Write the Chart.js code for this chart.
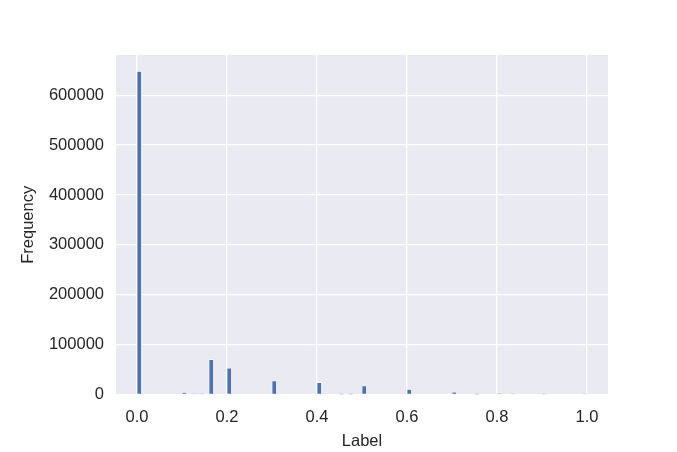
<!DOCTYPE html>
<html>
<head>
<meta charset="utf-8">
<script src="https://cdn.jsdelivr.net/npm/chart.js@4/dist/chart.umd.min.js"></script>
<style>
  html, body { margin: 0; padding: 0; background: #ffffff; }
  #wrap { width: 677px; height: 452px; position: relative; }
</style>
</head>
<body>
<div id="wrap"><canvas id="c" width="677" height="452"></canvas></div>
<script>
// Histogram bins (left edges, bin width 0.01) that hold data, and their counts
const binWidth = 0.01;
const binStarts = [0.00, 0.10, 0.12, 0.13, 0.14, 0.16, 0.20, 0.30, 0.40, 0.45, 0.47, 0.50, 0.60, 0.70, 0.75, 0.80, 0.83, 0.90, 0.99];
const binCounts = [648000, 4000, 800, 1000, 600, 70000, 53000, 27500, 24000, 400, 400, 17500, 10500, 5000, 400, 1600, 1000, 500, 1200];
const xTicks = [0.0, 0.2, 0.4, 0.6, 0.8, 1.0];
const yTicks = [0, 100000, 200000, 300000, 400000, 500000, 600000];
const xTitle = 'Label';
const yTitle = 'Frequency';

const points = binStarts.map((s, i) => ({ x: s + binWidth / 2, y: binCounts[i] }));

const FONT = "'Liberation Sans', Arial, Helvetica, sans-serif";
const TXT = '#262626';

const bgPlugin = {
  id: 'plotBg',
  beforeDraw(chart) {
    const { ctx, chartArea: a } = chart;
    ctx.save();
    ctx.fillStyle = '#eaeaf2';
    ctx.fillRect(a.left, a.top, a.right - a.left, a.bottom - a.top);
    ctx.restore();
  }
};

new Chart(document.getElementById('c'), {
  type: 'bar',
  data: {
    datasets: [{
      data: points,
      backgroundColor: '#4c72b0',
      borderColor: '#ffffff',
      borderWidth: 0.7,
      borderSkipped: 'bottom',
      barPercentage: 1,
      categoryPercentage: 1
    }]
  },
  options: {
    responsive: false,
    animation: false,
    devicePixelRatio: 1,
    layout: { padding: { left: 0, top: 55, right: 69, bottom: 0 } },
    plugins: { legend: { display: false }, tooltip: { enabled: false } },
    scales: {
      x: {
        type: 'linear',
        offset: false,
        min: -0.0467,
        max: 1.0467,
        afterBuildTicks(scale) { scale.ticks = xTicks.map(v => ({ value: v })); },
        afterFit(scale) { scale.height = 57.5; },
        grid: { color: '#ffffff', lineWidth: 1.3, drawTicks: false, offset: false },
        border: { display: false },
        ticks: {
          color: TXT, padding: 13,
          font: { family: FONT, size: 16.5 },
          callback: v => Number(v).toFixed(1),
          maxRotation: 0
        },
        title: {
          display: true, text: xTitle, color: TXT,
          font: { family: FONT, size: 16.5 },
          padding: { top: 0, bottom: 1 }
        }
      },
      y: {
        type: 'linear',
        min: 0,
        max: 680600,
        afterBuildTicks(scale) { scale.ticks = yTicks.map(v => ({ value: v })); },
        afterFit(scale) { scale.width = 116; },
        grid: { color: '#ffffff', lineWidth: 1.3, drawTicks: false },
        border: { display: false },
        ticks: {
          color: TXT, padding: 12,
          font: { family: FONT, size: 16.5 },
          callback: v => String(v)
        },
        title: {
          display: true, text: yTitle, color: TXT,
          font: { family: FONT, size: 16.5 },
          padding: { top: 19, bottom: 0 }
        }
      }
    }
  },
  plugins: [bgPlugin]
});
</script>
</body>
</html>
